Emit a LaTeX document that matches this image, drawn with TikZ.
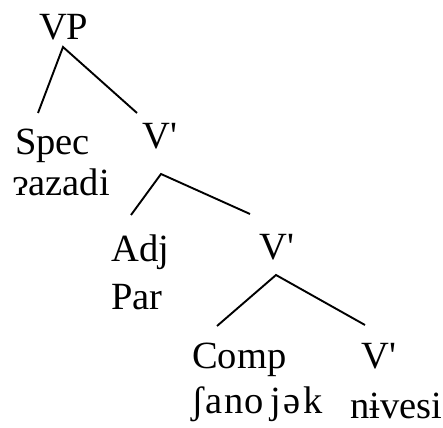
\documentclass[tikz,border=0pt]{standalone}
\usepackage{fontspec}
\setmainfont{Liberation Serif}
\tikzset{
    word/.style={anchor=base west, inner sep=0pt, font=\fontsize{38.5}{46}\selectfont},
    branch/.style={line width=1.9pt}
}
\newcommand{\vbar}{V\textquotesingle}
\begin{document}
\begin{tikzpicture}[x=1pt, y=-1pt]
            \useasboundingbox (0,0) rectangle (443,427);

            % 标签
            \node[word] (vp) at (39,40) {VP};
            \node[word] (spec) at (15,155) {Spec};
            \node[word] (spec-w) at (13,196) {ɂazadi};
            \node[word] (vbar1) at (142,149) {\vbar};
            \node[word] (adj) at (111,261) {Adj};
            \node[word] (par) at (111,309) {Par};
            \node[word] (vbar2) at (259,259) {\vbar};
            \node[word] (comp) at (192,368) {Comp};
            \node[word] (comp-w) at (191,413) {ʃ\kern2pt a\kern1pt n\kern1pt o\kern7pt j\kern2pt ə\kern3pt k};
            \node[word] (vbar3) at (361,368) {\vbar};
            \node[word] (vbar3-w) at (350,418) {nɨvesi};

            % 分支端点
            \coordinate (vp-apex) at (63,47);
            \coordinate (vp-l) at (38,113);
            \coordinate (vp-r) at (137,113);
            \coordinate (vbar1-apex) at (161,174);
            \coordinate (vbar1-l) at (131,215);
            \coordinate (vbar1-r) at (250,214);
            \coordinate (vbar2-apex) at (276,275);
            \coordinate (vbar2-l) at (217,326);
            \coordinate (vbar2-r) at (365,325);

            % 分支
            \draw[branch] (vp-l) -- (vp-apex) -- (vp-r);
            \draw[branch] (vbar1-l) -- (vbar1-apex) -- (vbar1-r);
            \draw[branch] (vbar2-l) -- (vbar2-apex) -- (vbar2-r);
\end{tikzpicture}
\end{document}
